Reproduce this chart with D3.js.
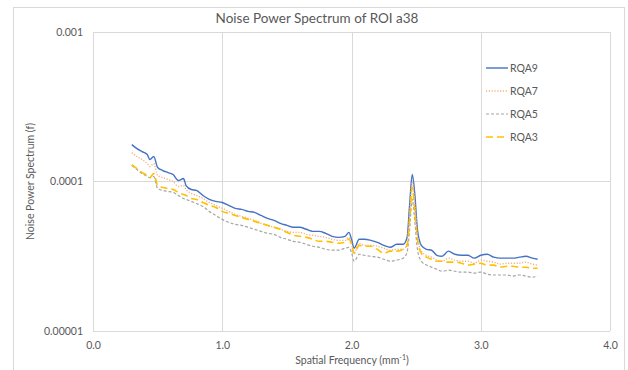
<!DOCTYPE html>
<html>
<head>
<meta charset="utf-8">
<script src="https://cdn.jsdelivr.net/npm/d3@7"></script>
<style>
  html, body { margin: 0; padding: 0; background: #fff; }
  svg { display: block; }
  text { font-family: Lato, "Open Sans", sans-serif; fill: #595959; }
</style>
</head>
<body>
<svg id="chart" width="628" height="370"></svg>
<script>
// ---------- data ----------
const title = "Noise Power Spectrum of ROI a38";
const xTitle = "Spatial Frequency (mm";
const yTitle = "Noise Power Spectrum (f)";
const seriesNames = ["RQA9", "RQA7", "RQA5", "RQA3"];
const xTicks = [0, 1, 2, 3, 4];
const yTicks = [0.001, 0.0001, 0.00001];
const yTickLabels = ["0.001", "0.0001", "0.00001"];

const freq = [0.30,0.34,0.38,0.42,0.44,0.47,0.50,0.54,0.58,0.62,0.66,0.70,0.72,0.76,0.80,0.85,0.90,0.95,1.00,1.05,
  1.10,1.15,1.20,1.25,1.30,1.35,1.40,1.45,1.50,1.55,1.60,1.65,1.70,1.75,1.80,1.85,1.90,1.95,1.98,2.00,
  2.02,2.06,2.10,2.15,2.20,2.25,2.30,2.35,2.40,2.43,2.45,2.47,2.49,2.51,2.54,2.58,2.62,2.66,2.70,2.75,
  2.80,2.85,2.90,2.95,3.00,3.05,3.10,3.15,3.20,3.25,3.30,3.35,3.40,3.44];

const rqa9 = [17.65e-5,16.60e-5,15.86e-5,15.14e-5,14.02e-5,14.69e-5,12.40e-5,11.84e-5,11.48e-5,11.13e-5,10.15e-5,10.47e-5,9.40e-5,8.84e-5,8.71e-5,8.07e-5,7.59e-5,7.36e-5,7.24e-5,6.92e-5,
  6.61e-5,6.51e-5,6.31e-5,6.21e-5,5.93e-5,5.67e-5,5.50e-5,5.25e-5,5.09e-5,4.94e-5,4.94e-5,4.79e-5,4.64e-5,4.64e-5,4.50e-5,4.30e-5,4.23e-5,4.30e-5,4.57e-5,4.11e-5,
  3.58e-5,4.11e-5,4.11e-5,4.04e-5,3.92e-5,3.74e-5,3.63e-5,3.80e-5,3.80e-5,4.23e-5,7.03e-5,11.13e-5,8.19e-5,4.79e-5,3.74e-5,3.52e-5,3.47e-5,3.21e-5,3.16e-5,3.42e-5,
  3.26e-5,3.21e-5,3.21e-5,3.07e-5,3.21e-5,3.26e-5,3.12e-5,3.07e-5,3.07e-5,3.07e-5,3.12e-5,3.16e-5,3.07e-5,3.02e-5];

const rqa7 = [15.61e-5,14.69e-5,14.02e-5,13.19e-5,12.59e-5,13.19e-5,10.96e-5,10.63e-5,10.31e-5,10.00e-5,9.26e-5,9.40e-5,8.84e-5,8.32e-5,8.07e-5,7.70e-5,7.24e-5,6.92e-5,6.61e-5,6.31e-5,
  6.03e-5,5.84e-5,5.67e-5,5.50e-5,5.25e-5,5.09e-5,4.94e-5,4.79e-5,4.64e-5,4.57e-5,4.57e-5,4.43e-5,4.37e-5,4.30e-5,4.23e-5,4.11e-5,4.04e-5,4.04e-5,4.23e-5,3.86e-5,
  3.31e-5,3.86e-5,3.74e-5,3.74e-5,3.69e-5,3.58e-5,3.47e-5,3.52e-5,3.52e-5,3.86e-5,6.03e-5,10.00e-5,7.03e-5,4.37e-5,3.42e-5,3.21e-5,3.12e-5,2.98e-5,2.93e-5,3.07e-5,
  2.98e-5,2.93e-5,2.93e-5,2.84e-5,2.98e-5,2.93e-5,2.89e-5,2.80e-5,2.84e-5,2.84e-5,2.84e-5,2.89e-5,2.80e-5,2.76e-5];

const rqa5 = [12.79e-5,12.02e-5,11.31e-5,10.80e-5,10.63e-5,10.80e-5,8.98e-5,8.71e-5,8.58e-5,8.45e-5,8.07e-5,7.70e-5,7.59e-5,7.36e-5,7.13e-5,6.81e-5,6.31e-5,5.93e-5,5.58e-5,5.33e-5,
  5.17e-5,5.09e-5,4.94e-5,4.79e-5,4.64e-5,4.50e-5,4.43e-5,4.23e-5,4.11e-5,3.98e-5,3.92e-5,3.80e-5,3.69e-5,3.63e-5,3.52e-5,3.47e-5,3.47e-5,3.58e-5,3.63e-5,3.36e-5,
  2.93e-5,3.26e-5,3.21e-5,3.16e-5,3.12e-5,3.02e-5,2.93e-5,2.98e-5,3.07e-5,3.36e-5,4.79e-5,7.59e-5,5.41e-5,3.52e-5,2.93e-5,2.76e-5,2.67e-5,2.59e-5,2.51e-5,2.55e-5,
  2.51e-5,2.48e-5,2.48e-5,2.44e-5,2.48e-5,2.40e-5,2.37e-5,2.37e-5,2.37e-5,2.33e-5,2.37e-5,2.33e-5,2.29e-5,2.33e-5];

const rqa3 = [12.98e-5,12.21e-5,11.48e-5,10.96e-5,10.63e-5,11.31e-5,9.40e-5,9.12e-5,8.98e-5,8.84e-5,8.45e-5,8.19e-5,8.07e-5,7.70e-5,7.59e-5,7.24e-5,6.92e-5,6.71e-5,6.31e-5,6.12e-5,
  5.93e-5,5.75e-5,5.58e-5,5.41e-5,5.25e-5,5.09e-5,4.94e-5,4.79e-5,4.57e-5,4.37e-5,4.30e-5,4.23e-5,4.11e-5,3.98e-5,3.98e-5,3.92e-5,3.86e-5,3.92e-5,4.11e-5,3.80e-5,
  3.31e-5,3.74e-5,3.69e-5,3.69e-5,3.52e-5,3.31e-5,3.42e-5,3.42e-5,3.52e-5,3.74e-5,5.58e-5,9.12e-5,6.31e-5,4.11e-5,3.31e-5,3.12e-5,3.02e-5,2.93e-5,2.93e-5,2.89e-5,
  2.89e-5,2.84e-5,2.76e-5,2.80e-5,2.84e-5,2.76e-5,2.76e-5,2.67e-5,2.71e-5,2.71e-5,2.67e-5,2.67e-5,2.63e-5,2.63e-5];

const seriesValues = [rqa9, rqa7, rqa5, rqa3];
const seriesColors = ["#4472C4", "#F4B183", "#A5A5A5", "#FFC000"];
const seriesDash = [null, "1.2,1.6", "3,2", "7,4"];
const seriesWidth = [1.4, 1.4, 1.2, 1.6];

// ---------- layout ----------
const svg = d3.select("#chart");
const M = { left: 93, right: 610, top: 32, bottom: 331 };
const x = d3.scaleLinear().domain([0, 4]).range([M.left, M.right]);
const y = d3.scaleLog().domain([1e-5, 1e-3]).range([M.bottom, M.top]);

// outer frame
svg.append("rect").attr("x", 13.5).attr("y", 7.5).attr("width", 611).attr("height", 370)
  .attr("fill", "#fff").attr("stroke", "#d9d9d9").attr("stroke-width", 1);

// gridlines
const grid = svg.append("g");
grid.selectAll("line.h").data(yTicks).join("line")
  .attr("x1", M.left).attr("x2", M.right)
  .attr("y1", d => Math.round(y(d)) + 0.5).attr("y2", d => Math.round(y(d)) + 0.5)
  .attr("stroke", "#d9d9d9").attr("stroke-width", 1);
grid.selectAll("line.v").data(xTicks).join("line")
  .attr("y1", M.top).attr("y2", M.bottom)
  .attr("x1", d => Math.round(x(d)) + 0.5).attr("x2", d => Math.round(x(d)) + 0.5)
  .attr("stroke", "#d9d9d9").attr("stroke-width", 1);

// axes (labels only, via d3 axis generators)
const xAxis = d3.axisBottom(x).tickValues(xTicks).tickFormat(d3.format(".1f")).tickSize(0).tickPadding(11);
const gx = svg.append("g").attr("transform", `translate(0,${M.bottom})`).call(xAxis);
gx.select(".domain").remove();
gx.selectAll("text").attr("font-size", 10.5).attr("fill", "#595959").style("font-family", "Lato, sans-serif");

const yAxis = d3.axisLeft(y).tickValues(yTicks).tickFormat((d, i) => yTickLabels[i]).tickSize(0).tickPadding(10);
const gy = svg.append("g").attr("transform", `translate(${M.left},0)`).call(yAxis);
gy.select(".domain").remove();
gy.selectAll("text").attr("font-size", 10.5).attr("fill", "#595959").style("font-family", "Lato, sans-serif");

// series
const line = d3.line().x((d, i) => x(freq[i])).y(d => y(d)).curve(d3.curveMonotoneX);
const gs = svg.append("g");
seriesValues.forEach((vals, k) => {
  gs.append("path").datum(vals).attr("d", line)
    .attr("fill", "none").attr("stroke", seriesColors[k])
    .attr("stroke-width", seriesWidth[k])
    .attr("stroke-dasharray", seriesDash[k])
    .attr("stroke-linejoin", "round");
});

// title
svg.append("text").attr("x", 317).attr("y", 23).attr("text-anchor", "middle")
  .attr("font-size", 13.5).attr("fill", "#595959").text(title);

// x title with superscript
const xt = svg.append("text").attr("x", 352).attr("y", 364).attr("text-anchor", "middle")
  .attr("font-size", 10.5).attr("fill", "#595959");
xt.append("tspan").text(xTitle);
xt.append("tspan").attr("dy", -4).attr("font-size", 7).text("-1");
xt.append("tspan").attr("dy", 4).text(")");

// y title
svg.append("text").attr("transform", `translate(34,${(M.top + M.bottom) / 2}) rotate(-90)`)
  .attr("text-anchor", "middle").attr("font-size", 10.5).attr("fill", "#595959").text(yTitle);

// legend
const lg = svg.append("g");
seriesNames.forEach((name, k) => {
  const ly = 68 + k * 23;
  lg.append("line").attr("x1", 486).attr("x2", 508).attr("y1", ly).attr("y2", ly)
    .attr("stroke", seriesColors[k]).attr("stroke-width", seriesWidth[k])
    .attr("stroke-dasharray", seriesDash[k]);
  lg.append("text").attr("x", 510).attr("y", ly + 3.5).attr("font-size", 10.5)
    .attr("fill", "#595959").text(name);
});
</script>
</body>
</html>
